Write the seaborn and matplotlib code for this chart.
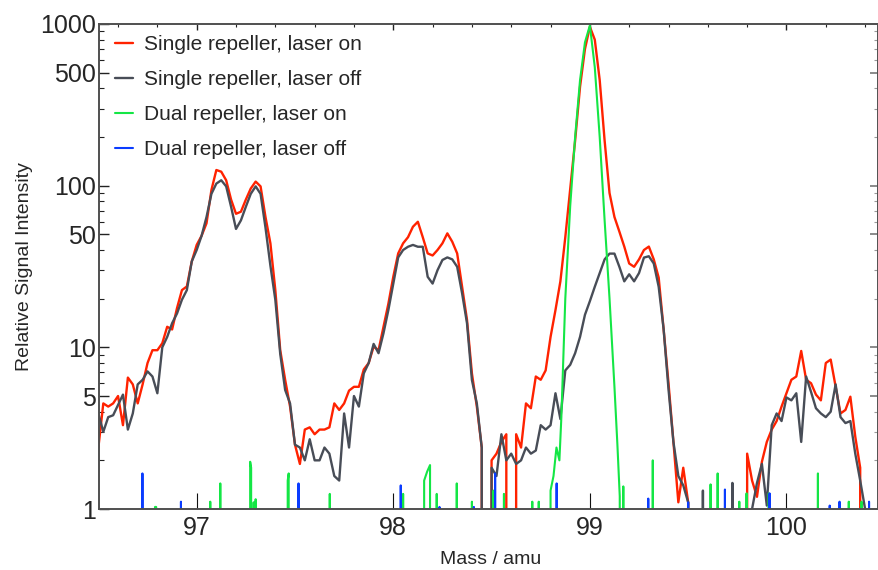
"""
Mass spectrum around m/z 97-100: single vs dual repeller, laser on/off
"""
import matplotlib
matplotlib.use("Agg")
import matplotlib.pyplot as plt
from matplotlib.ticker import LogLocator, MultipleLocator, NullFormatter
import seaborn as sns

sns.set_style("ticks")
plt.rcParams["font.family"] = ["Liberation Sans", "DejaVu Sans"]

OUT_PATH = "out.png"

# sampled mass axis of the two single-repeller traces (amu)
MASS = [
    96.500, 96.525, 96.550, 96.575, 96.600, 96.625, 96.650, 96.675, 96.700, 96.725,
    96.750, 96.775, 96.800, 96.825, 96.850, 96.875, 96.900, 96.925, 96.950, 96.975,
    97.000, 97.025, 97.050, 97.075, 97.100, 97.125, 97.150, 97.175, 97.200, 97.225,
    97.250, 97.275, 97.300, 97.325, 97.350, 97.375, 97.400, 97.425, 97.450, 97.475,
    97.500, 97.525, 97.550, 97.575, 97.600, 97.625, 97.650, 97.675, 97.700, 97.725,
    97.750, 97.775, 97.800, 97.825, 97.850, 97.875, 97.900, 97.925, 97.950, 97.975,
    98.000, 98.025, 98.050, 98.075, 98.100, 98.125, 98.150, 98.175, 98.200, 98.225,
    98.250, 98.275, 98.300, 98.325, 98.350, 98.375, 98.400, 98.425, 98.450, 98.475,
    98.500, 98.525, 98.550, 98.575, 98.600, 98.625, 98.650, 98.675, 98.700, 98.725,
    98.750, 98.775, 98.800, 98.825, 98.850, 98.875, 98.900, 98.925, 98.950, 98.975,
    99.000, 99.025, 99.050, 99.075, 99.100, 99.125, 99.150, 99.175, 99.200, 99.225,
    99.250, 99.275, 99.300, 99.325, 99.350, 99.375, 99.400, 99.425, 99.450, 99.475,
    99.500, 99.525, 99.550, 99.575, 99.600, 99.625, 99.650, 99.675, 99.700, 99.725,
    99.750, 99.775, 99.800, 99.825, 99.850, 99.875, 99.900, 99.925, 99.950, 99.975,
    100.000, 100.025, 100.050, 100.075, 100.100, 100.125, 100.150, 100.175, 100.200, 100.225,
    100.250, 100.275, 100.300, 100.325, 100.350, 100.375, 100.400, 100.425, 100.450,
]

# Single repeller, laser on (0 = no counts)
SINGLE_ON = [
    2.4, 4.5, 4.3, 4.5, 5.0, 3.3, 6.5, 5.9, 4.5, 5.9,
    8.0, 9.6, 9.6, 10.6, 13.4, 12.9, 17.5, 22.6, 23.8, 34,
    43, 49, 58.5, 94, 125, 122, 108, 82, 67, 69,
    82, 96, 106, 99, 64, 44, 22.6, 9.6, 6.3, 4.3,
    2.5, 1.9, 3.1, 3.2, 2.9, 3.1, 3.1, 3.2, 4.5, 4.1,
    4.5, 5.4, 5.7, 5.7, 7.3, 8.0, 10.1, 9.6, 13.4, 18.6,
    27.3, 38.1, 44, 48, 55.7, 59.8, 48, 38.1, 37, 40,
    44, 50.7, 45, 38.1, 23.7, 14.8, 6.9, 4.3, 2.4, 0,
    2.0, 2.2, 2.6, 2.9, 0, 2.9, 2.4, 4.5, 4.2, 6.6,
    6.3, 7.2, 11.6, 17, 25.6, 48, 95, 190, 409, 700,
    961, 800, 450, 190, 90, 64, 52, 42, 33, 31.5,
    35, 40, 42, 35, 27, 13, 6.0, 2.6, 1.1, 1.8,
    1.1, 0, 0, 0, 0, 0, 0, 0, 0, 0,
    0, 0, 2.2, 1.5, 1.19, 1.96, 2.6, 3.1, 3.5, 4.3,
    5.2, 6.3, 6.6, 9.5, 6.3, 6.0, 5.1, 4.7, 8.0, 8.4,
    5.7, 3.9, 4.1, 4.95, 2.8, 1.8, 0, 0, 0,
]

# Single repeller, laser off
SINGLE_OFF = [
    3.9, 3.0, 3.7, 3.8, 4.4, 5.1, 3.1, 3.9, 5.9, 6.3,
    7.1, 6.6, 5.2, 10.0, 11.6, 14.1, 16.2, 19.7, 22.6, 34,
    40, 49, 64, 89, 103, 108, 99, 74, 54, 61,
    74, 89, 99, 89, 55, 32, 19.7, 9.1, 5.45, 4.5,
    2.5, 2.4, 2.0, 2.7, 2.0, 2.0, 2.4, 2.2, 1.6, 1.5,
    3.9, 2.4, 5.0, 4.3, 6.9, 8.0, 10.5, 9.2, 12.2, 17,
    24.8, 36, 40, 41.9, 43, 41.9, 41.9, 27.3, 24.8, 30,
    34.7, 36, 35, 31.5, 21.6, 14.1, 6.28, 4.5, 2.4, 0,
    1.8, 1.6, 2.9, 2.0, 2.2, 1.9, 2.0, 2.4, 2.2, 2.3,
    3.3, 3.1, 3.3, 5.2, 3.6, 7.2, 7.8, 9.2, 11.6, 15.9,
    19.3, 23.7, 28.8, 35, 38, 38, 31.5, 25.6, 28.3, 25.6,
    28.8, 35.9, 36.6, 33, 23.7, 13, 5.5, 2.6, 1.6, 1.4,
    1.1, 0, 0, 1.3, 0, 0, 0, 0, 0, 1.45,
    0, 0, 0, 1.0, 1.45, 1.9, 1.05, 3.3, 3.9, 3.5,
    4.9, 4.7, 5.2, 2.6, 6.6, 5.3, 4.2, 3.9, 3.7, 4.0,
    5.9, 3.7, 3.4, 3.5, 2.2, 1.5, 1.0, 0, 0,
]

# Dual repeller, laser on
DUAL_ON_MASS = [
    96.500, 96.786, 96.788, 96.794, 96.796,
    97.066, 97.069, 97.072,
    97.117, 97.120, 97.123,
    97.269, 97.272, 97.277, 97.280,
    97.287, 97.290, 97.293,
    97.297, 97.300, 97.303,
    97.460, 97.463, 97.468, 97.471,
    97.674, 97.677, 97.680,
    98.047, 98.050, 98.053,
    98.154, 98.157, 98.172, 98.187, 98.190,
    98.218, 98.221, 98.224,
    98.320, 98.323, 98.326,
    98.397, 98.400, 98.403,
    98.507, 98.510, 98.513,
    98.560, 98.563, 98.566,
    98.704, 98.707, 98.710,
    98.737, 98.740, 98.743,
    98.795, 98.800, 98.815, 98.830, 98.845, 98.855, 98.875, 98.900, 98.925,
    98.950, 98.975, 99.000, 99.025, 99.050, 99.075, 99.100, 99.125, 99.140,
    99.152, 99.156,
    99.167, 99.170, 99.173,
    99.317, 99.320, 99.323,
    99.611, 99.614, 99.617,
    99.647, 99.650, 99.653,
    99.757, 99.760, 99.763,
    99.794, 99.797, 99.800,
    99.907, 99.910, 99.913,
    100.157, 100.160, 100.163,
    100.314, 100.317, 100.320,
    100.379, 100.382, 100.385,
    100.450,
]
DUAL_ON = [
    0, 0, 1.03, 1.03, 0,
    0, 1.11, 0,
    0, 1.44, 0,
    0, 1.96, 1.8, 0,
    0, 1.1, 0,
    0, 1.15, 0,
    0, 1.5, 1.66, 0,
    0, 1.24, 0,
    0, 1.24, 0,
    0, 1.5, 1.7, 1.87, 0,
    0, 1.24, 0,
    0, 1.44, 0,
    0, 1.11, 0,
    0, 1.3, 0,
    0, 1.24, 0,
    0, 1.11, 0,
    0, 1.11, 0,
    0, 1.3, 1.6, 2.4, 2.0, 3.7, 20, 75, 200,
    450, 770, 980, 540, 200, 61, 20, 5.7, 2.5,
    1.2, 0,
    0, 1.38, 0,
    0, 2.0, 0,
    0, 1.42, 0,
    0, 1.66, 0,
    0, 1.11, 0,
    0, 1.25, 0,
    0, 1.25, 0,
    0, 1.66, 0,
    0, 1.11, 0,
    0, 1.11, 0,
    0,
]

# Dual repeller, laser off
DUAL_OFF_MASS = [
    96.500, 96.721, 96.724, 96.727, 96.917, 96.920, 96.923,
    97.515, 97.518, 97.521, 98.035, 98.038, 98.041,
    98.232, 98.235, 98.238, 98.407, 98.410, 98.413,
    98.515, 98.518, 98.521, 98.828, 98.831, 98.834,
    99.294, 99.297, 99.300, 99.497, 99.500, 99.503,
    99.684, 99.687, 99.690, 99.911, 99.914, 99.917,
    100.217, 100.220, 100.223, 100.267, 100.270, 100.273,
    100.417, 100.420, 100.423, 100.450,
]
DUAL_OFF = [
    0, 0, 1.66, 0, 0, 1.11, 0,
    0, 1.44, 0, 0, 1.4, 0,
    0, 1.03, 0, 0, 1.03, 0,
    0, 1.66, 0, 0, 1.44, 0,
    0, 1.16, 0, 0, 1.1, 0,
    0, 1.32, 0, 0, 1.25, 0,
    0, 1.05, 0, 0, 1.11, 0,
    0, 1.11, 0, 0,
]

LABELS = ["Single repeller, laser on", "Single repeller, laser off",
          "Dual repeller, laser on", "Dual repeller, laser off"]
COLORS = ["#ff2200", "#484d57", "#14e645", "#0a3cff"]

X_TICKS = [97, 98, 99, 100]
Y_TICKS = [1, 5, 10, 50, 100, 500, 1000]
SPINE = "#505050"


def plot():
    fig = plt.figure(figsize=(8.79, 5.70), dpi=100)
    ax = fig.add_axes([0.1126, 0.1070, 0.8868, 0.8509])

    series = [
        (MASS, SINGLE_ON, 1.7),
        (MASS, SINGLE_OFF, 1.7),
        (DUAL_ON_MASS, DUAL_ON, 1.5),
        (DUAL_OFF_MASS, DUAL_OFF, 1.5),
    ]
    for (x, y, lw), label, color in zip(series, LABELS, COLORS):
        sns.lineplot(x=x, y=y, ax=ax, color=color, linewidth=lw, label=label,
                     estimator=None, sort=False)

    ax.set_yscale("log")
    ax.set_ylim(1, 1000)
    ax.set_xlim(96.503, 100.468)

    ax.set_xticks(X_TICKS)
    ax.set_xticklabels([str(t) for t in X_TICKS])
    ax.set_yticks(Y_TICKS)
    ax.set_yticklabels([str(t) for t in Y_TICKS])
    ax.yaxis.set_minor_locator(LogLocator(base=10, subs=(2, 3, 4, 6, 7, 8, 9), numticks=12))
    ax.yaxis.set_minor_formatter(NullFormatter())

    ax.tick_params(axis="y", which="major", direction="in", length=7, width=1,
                   labelsize=18, pad=2, color="#222222")
    ax.tick_params(axis="y", which="minor", direction="in", length=3.5, width=0.8,
                   color="#222222")
    ax.tick_params(axis="x", which="major", direction="in", length=11.5, width=0.8,
                   labelsize=18, pad=5, color="#111111")
    ax.tick_params(axis="x", which="minor", bottom=False)
    ax.tick_params(top=False, right=False)

    # top and right ticks, unlabeled
    secx = ax.secondary_xaxis("top")
    secx.set_xticks(X_TICKS)
    secx.xaxis.set_major_formatter(NullFormatter())
    secx.xaxis.set_minor_locator(MultipleLocator(0.2))
    secx.tick_params(which="major", direction="in", length=4, width=1, color="#222222")
    secx.tick_params(which="minor", direction="in", length=2.5, width=0.8, color="#222222")
    secx.spines["top"].set_visible(False)

    secy = ax.secondary_yaxis("right")
    secy.set_yticks(Y_TICKS)
    secy.yaxis.set_major_formatter(NullFormatter())
    secy.yaxis.set_minor_locator(LogLocator(base=10, subs=(2, 3, 4, 6, 7, 8, 9), numticks=12))
    secy.yaxis.set_minor_formatter(NullFormatter())
    secy.tick_params(which="major", direction="in", length=6, width=1.2, color="#777777")
    secy.tick_params(which="minor", direction="in", length=3, width=0.8, color="#999999")
    secy.spines["right"].set_visible(False)

    for side in ["left", "right", "top", "bottom"]:
        ax.spines[side].set_visible(True)
        ax.spines[side].set_color(SPINE)
        ax.spines[side].set_linewidth(1.4)

    ax.set_xlabel("Mass / amu", fontsize=14)
    ax.xaxis.set_label_coords(0.503, -0.087)
    ax.set_ylabel("Relative Signal Intensity", fontsize=14)
    ax.yaxis.set_label_coords(-0.084, 0.5)

    ax.legend(loc="upper left", bbox_to_anchor=(0.02, 0.977), frameon=False,
              fontsize=15, handlelength=0.9, handletextpad=0.5, labelspacing=0.77,
              borderaxespad=0, borderpad=0)

    fig.savefig(OUT_PATH, dpi=100)
    print(f"Saved: {OUT_PATH}")


if __name__ == "__main__":
    plot()
